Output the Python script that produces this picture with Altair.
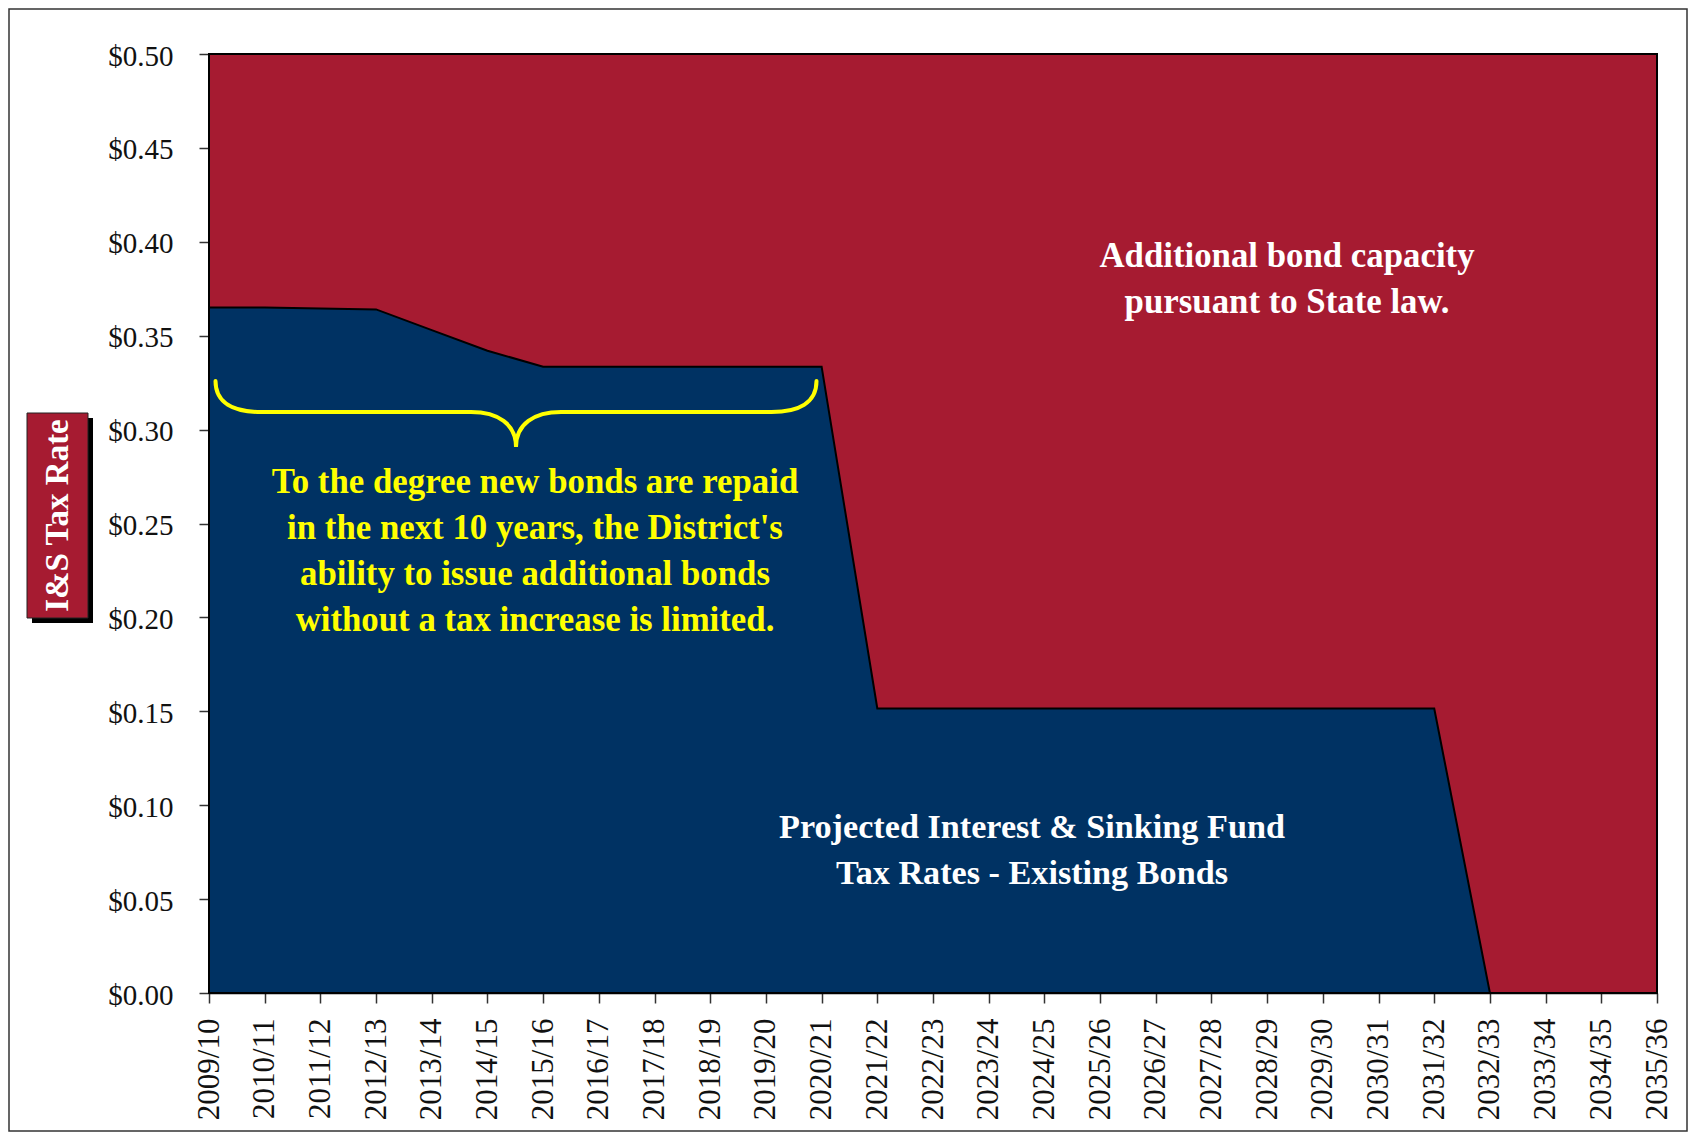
import altair as alt
import pandas as pd

# ---------------- data ----------------
years = ["2009/10", "2010/11", "2011/12", "2012/13", "2013/14", "2014/15", "2015/16",
         "2016/17", "2017/18", "2018/19", "2019/20", "2020/21", "2021/22", "2022/23",
         "2023/24", "2024/25", "2025/26", "2026/27", "2027/28", "2028/29", "2029/30",
         "2030/31", "2031/32", "2032/33", "2033/34", "2034/35", "2035/36"]

existing_rate = [0.365, 0.365, 0.3645, 0.364, 0.353, 0.342, 0.3335,
                 0.3335, 0.3335, 0.3335, 0.3335, 0.3335, 0.1515, 0.1515,
                 0.1515, 0.1515, 0.1515, 0.1515, 0.1515, 0.1515, 0.1515,
                 0.1515, 0.1515, 0.0, 0.0, 0.0, 0.0]

rate_limit = [0.50, 0.50, 0.50, 0.50, 0.50, 0.50, 0.50,
              0.50, 0.50, 0.50, 0.50, 0.50, 0.50, 0.50,
              0.50, 0.50, 0.50, 0.50, 0.50, 0.50, 0.50,
              0.50, 0.50, 0.50, 0.50, 0.50, 0.50]

y_ticks = [0.0, 0.05, 0.10, 0.15, 0.20, 0.25, 0.30, 0.35, 0.40, 0.45, 0.50]

capacity_text = ["Additional bond capacity", "pursuant to State law."]
existing_text = ["Projected Interest & Sinking Fund", "Tax Rates - Existing Bonds"]
note_text = ["To the degree new bonds are repaid",
             "in the next 10 years, the District's",
             "ability to issue additional bonds",
             "without a tax increase is limited."]
y_title = "I&S Tax Rate"

# ---------------- style ----------------
FONT = "Liberation Serif"
RED = "#A61B31"
BLUE = "#003263"
YELLOW = "#FFFF00"
W, H = 1448, 939

BRACE = ("M -1 -0.103 C -1 -0.03 -0.94 0 -0.85 0 L -0.15 0 "
         "C -0.06 0 0 0.04 0 0.1165 C 0 0.04 0.06 0 0.15 0 "
         "L 0.85 0 C 0.94 0 1 -0.03 1 -0.103")

df = pd.DataFrame({"year": years, "existing": existing_rate, "limit": rate_limit})
one = pd.DataFrame({"k": [0]})

x_enc = alt.X(
    "year:O", sort=years,
    scale=alt.Scale(type="point", padding=0),
    axis=alt.Axis(title="", labelAngle=-90, labelFont=FONT, labelFontSize=31,
                  labelColor="#111", tickSize=10, tickColor="#333", tickWidth=1.5,
                  domainColor="#000", domainWidth=1.5, labelPadding=15, grid=False),
)
y_scale = alt.Scale(domain=[0, 0.5], nice=False, zero=True)
y_axis = alt.Axis(title="", values=y_ticks, format="$.2f", labelFont=FONT,
                  labelFontSize=29, labelColor="#111", tickSize=10, tickColor="#333",
                  tickWidth=1.5, domainColor="#000", domainWidth=1.5,
                  labelPadding=26, labelOffset=2, grid=False)

base = alt.Chart(df)
red_area = base.mark_area(color=RED, opacity=1).encode(
    x=x_enc, y=alt.Y("limit:Q", scale=y_scale, axis=y_axis))
blue_area = base.mark_area(color=BLUE, opacity=1).encode(
    x=x_enc, y=alt.Y("existing:Q", scale=y_scale))
blue_edge = base.mark_line(color="black", strokeWidth=2).encode(
    x=x_enc, y=alt.Y("existing:Q", scale=y_scale))

plot_frame = alt.Chart(one).mark_rect(fillOpacity=0, stroke="black", strokeWidth=2).encode(
    x=alt.value(0), x2=alt.value(W), y=alt.value(0), y2=alt.value(H))


def label(lines, xpx, ypx, color, size):
    return alt.Chart(one).mark_text(
        font=FONT, fontSize=size, fontWeight="bold", color=color, align="center",
        baseline="alphabetic", lineHeight=46
    ).encode(x=alt.value(xpx), y=alt.value(ypx), text=alt.value(lines))


cap_label = label(capacity_text, 1078, 213, "white", 34.8)
exist_label = label(existing_text, 823, 784, "white", 34.2)
note_label = label(note_text, 326, 439, YELLOW, 34.8)

brace = alt.Chart(one).mark_point(
    shape=BRACE, filled=False, stroke=YELLOW, strokeWidth=4, opacity=1,
    size=601 * 601, strokeCap="round"
).encode(x=alt.value(307), y=alt.value(358))

title_shadow = alt.Chart(one).mark_rect(color="black").encode(
    x=alt.value(-177), x2=alt.value(-116), y=alt.value(364), y2=alt.value(569))
title_box = alt.Chart(one).mark_rect(fill=RED, stroke="#222", strokeWidth=1).encode(
    x=alt.value(-182), x2=alt.value(-121), y=alt.value(359), y2=alt.value(564))
title_text = alt.Chart(one).mark_text(
    font=FONT, fontSize=33, fontWeight="bold", color="white", angle=270,
    align="center", baseline="middle"
).encode(x=alt.value(-151.5), y=alt.value(461.5), text=alt.value(y_title))

outer_frame = alt.Chart(one).mark_rect(fillOpacity=0, stroke="#333", strokeWidth=1.5).encode(
    x=alt.value(-200), x2=alt.value(1478), y=alt.value(-45), y2=alt.value(1077))

chart = alt.layer(
    red_area, blue_area, blue_edge, plot_frame,
    cap_label, exist_label, note_label, brace,
    title_shadow, title_box, title_text, outer_frame,
).properties(
    width=W, height=H,
    autosize=alt.AutoSizeParams(type="none"),
    padding={"left": 201, "top": 46, "right": 31, "bottom": 140},
    background="white",
).configure_view(stroke=None)

chart.save("out.html", embed_options={"renderer": "svg", "actions": False})
